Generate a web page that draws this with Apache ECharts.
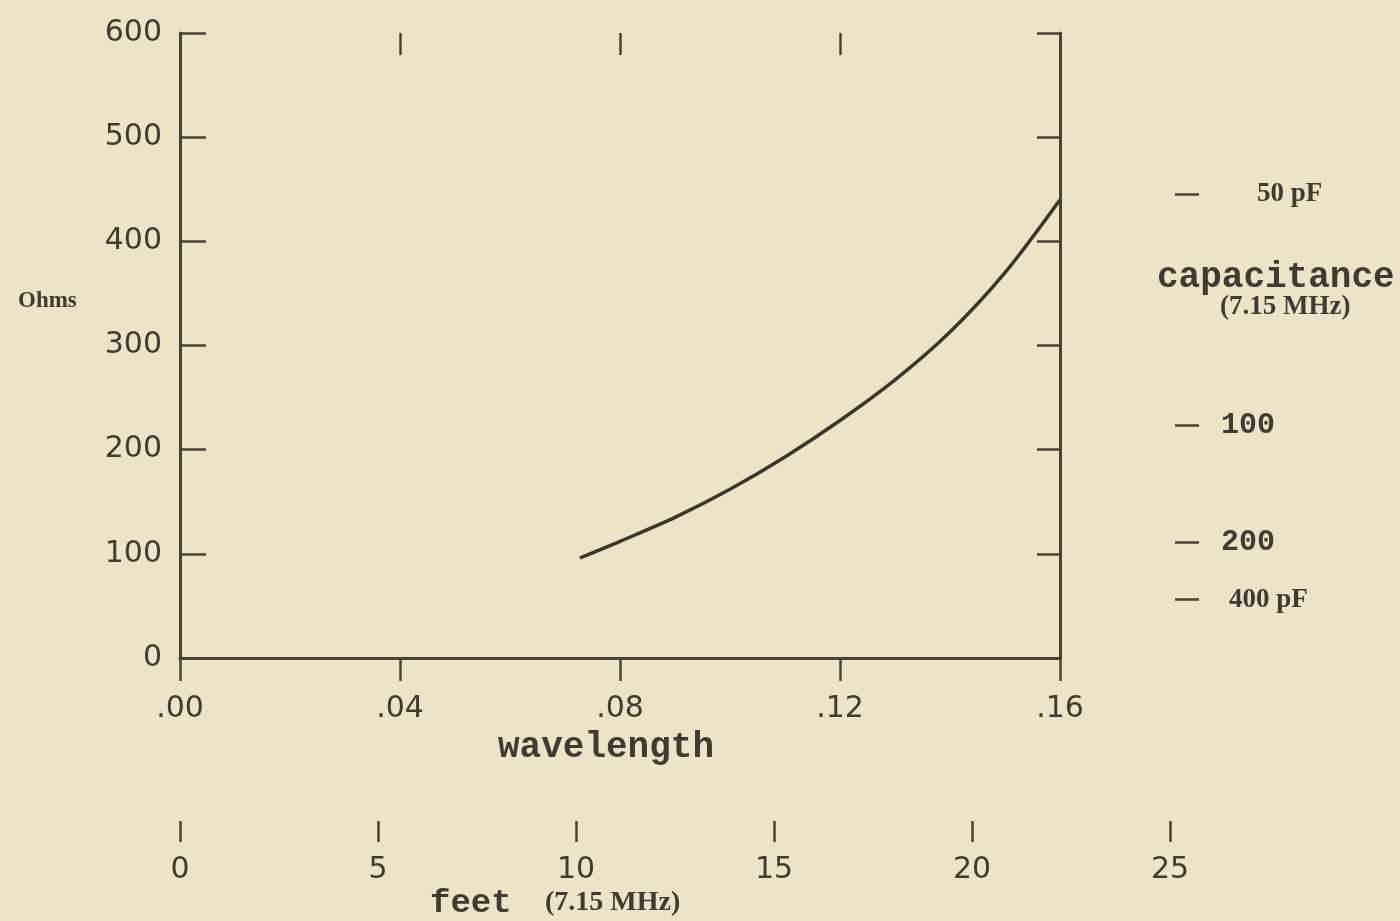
<!DOCTYPE html>
<html>
<head>
<meta charset="utf-8">
<script src="https://cdn.jsdelivr.net/npm/echarts@6/dist/echarts.min.js"></script>
<style>
  html, body { margin: 0; padding: 0; background: #ede3c7; }
  #chart { width: 1400px; height: 921px; }
</style>
</head>
<body>
<div id="chart"></div>
<script>
// ---- data ----
const wavelength = [0.0727, 0.08, 0.09, 0.10, 0.11, 0.12, 0.13, 0.14, 0.15, 0.16];
const ohms       = [96, 112, 135, 162, 193, 228, 267, 313, 370, 440];

const topTicks = [0.04, 0.08, 0.12];

const capLabels = ['50 pF', '100', '200', '400 pF'];
const capOhms   = [445, 223, 111, 56];   // positions of the capacitance marks on the ohm scale
const capStyle  = ['pf', 'mono', 'mono', 'pf4'];

const feetMin = 0, feetMax = 25, feetStep = 5;

// ---- styles ----
const INK = '#403a33';
const LINE = '#4a4237';
const numFont = { fontFamily: 'DejaVu Sans', fontSize: 30, color: INK };

const chart = echarts.init(document.getElementById('chart'), null, { renderer: 'canvas' });

const option = {
  backgroundColor: '#ede3c7',
  animation: false,
  grid: [
    { left: 180, right: 340, top: 33, bottom: 263 },
    { left: 180, right: 230, top: 800, bottom: 100 }
  ],
  xAxis: [
    {
      gridIndex: 0, type: 'value', position: 'bottom',
      min: 0, max: 0.16, interval: 0.04,
      axisLine: { show: true, onZero: false, lineStyle: { color: LINE, width: 3 } },
      axisTick: { show: true, inside: false, length: 23, lineStyle: { color: LINE, width: 2.5 } },
      splitLine: { show: false },
      axisLabel: Object.assign({ margin: 36, formatter: v => v.toFixed(2).replace(/^0/, '') }, numFont),
      name: 'wavelength', nameLocation: 'middle', nameGap: 72,
      nameTextStyle: { fontFamily: 'Liberation Mono', fontWeight: 'bold', fontSize: 36, color: INK, padding: [0, 28, 0, 0] }
    },
    {
      gridIndex: 0, type: 'value', position: 'top',
      min: 0, max: 0.16,
      axisLine: { show: false, onZero: false },
      axisTick: { show: true, inside: true, length: 22, customValues: topTicks, lineStyle: { color: LINE, width: 2.5 } },
      axisLabel: { show: false },
      splitLine: { show: false }
    },
    {
      gridIndex: 1, type: 'value', position: 'bottom',
      min: feetMin, max: feetMax, interval: feetStep,
      axisLine: { show: false, onZero: false },
      axisTick: { show: true, inside: false, length: 21, lineStyle: { color: LINE, width: 2.5 } },
      axisLabel: Object.assign({ margin: 34 }, numFont),
      splitLine: { show: false }
    }
  ],
  yAxis: [
    {
      gridIndex: 0, type: 'value', position: 'left',
      min: 0, max: 600, interval: 100,
      axisLine: { show: true, onZero: false, lineStyle: { color: LINE, width: 3 } },
      axisTick: { show: true, inside: true, length: 26, lineStyle: { color: LINE, width: 2.5 } },
      axisLabel: Object.assign({ margin: 18 }, numFont),
      splitLine: { show: false }
    },
    {
      gridIndex: 0, type: 'value', position: 'right',
      min: 0, max: 600, interval: 100,
      axisLine: { show: true, onZero: false, lineStyle: { color: LINE, width: 3 } },
      axisTick: { show: true, inside: true, length: 23, lineStyle: { color: LINE, width: 2.5 } },
      axisLabel: { show: false },
      splitLine: { show: false }
    },
    {
      gridIndex: 0, type: 'value', position: 'right', offset: 115,
      min: 0, max: 600,
      axisLine: { show: false, onZero: false },
      axisTick: { show: true, inside: false, length: 24, customValues: capOhms, lineStyle: { color: LINE, width: 2.5 } },
      axisLabel: {
        show: true, margin: 46, customValues: capOhms,
        formatter: function (v) {
          let best = 0;
          capOhms.forEach((c, i) => { if (Math.abs(c - v) < Math.abs(capOhms[best] - v)) best = i; });
          return '{' + capStyle[best] + '|' + capLabels[best] + '}';
        },
        rich: {
          mono: { fontFamily: 'Liberation Mono', fontWeight: 'bold', fontSize: 30, color: INK },
          pf:   { fontFamily: 'Liberation Serif', fontWeight: 'bold', fontSize: 27, color: INK, padding: [0, 0, 0, 36] },
          pf4:  { fontFamily: 'Liberation Serif', fontWeight: 'bold', fontSize: 27, color: INK, padding: [0, 0, 0, 8] }
        }
      },
      splitLine: { show: false }
    },
    {
      gridIndex: 1, type: 'value', min: 0, max: 1,
      axisLine: { show: false, onZero: false }, axisTick: { show: false }, axisLabel: { show: false }, splitLine: { show: false }
    }
  ],
  graphic: [
    { type: 'text', left: 18, top: 290, style: { text: 'Ohms', font: 'bold 23px "Liberation Serif"', fill: INK } },
    { type: 'text', left: 1157, top: 260, style: { text: 'capacitance', font: 'bold 36px "Liberation Mono"', fill: INK } },
    { type: 'text', left: 1220, top: 294, style: { text: '(7.15 MHz)', font: 'bold 27px "Liberation Serif"', fill: INK } },
    { type: 'text', left: 430, top: 886, style: { text: 'feet', font: 'bold 34px "Liberation Mono"', fill: INK } },
    { type: 'text', left: 545, top: 889, style: { text: '(7.15 MHz)', font: 'bold 28px "Liberation Serif"', fill: INK } }
  ],
  series: [
    {
      type: 'line', xAxisIndex: 0, yAxisIndex: 0,
      data: wavelength.map((w, i) => [w, ohms[i]]),
      smooth: 0.3, showSymbol: false,
      lineStyle: { color: '#3d352b', width: 3.5 }
    }
  ]
};
chart.setOption(option);
</script>
</body>
</html>
